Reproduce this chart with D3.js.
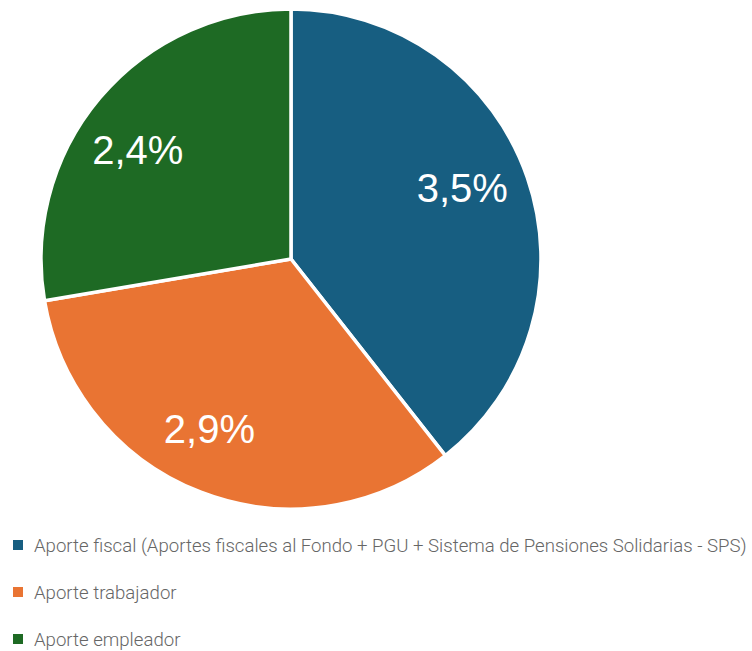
<!DOCTYPE html>
<head>
  <meta charset="utf-8">
  <style>
    body { margin: 0; background: #fff; }
    .label { font-family: "Liberation Sans", Arial, sans-serif; font-size: 40px; fill: #fff; }
    .legend text { font-family: Roboto, sans-serif; font-weight: 300; font-size: 18.6px; fill: #666; }
  </style>
  <script src="https://d3js.org/d3.v7.min.js"></script>
</head>

<body>
  <div id="content"></div>
  <script>
  var categories = [
    "Aporte fiscal (Aportes fiscales al Fondo + PGU + Sistema de Pensiones Solidarias - SPS)",
    "Aporte trabajador",
    "Aporte empleador"
  ];
  var values = [3.46, 2.89, 2.43];
  var valueLabels = ["3,5%", "2,9%", "2,4%"];
  var colors = ["#175e81", "#e97433", "#1e6a24"];

  var width = 752, height = 651,
      cx = 291, cy = 259, radius = 250;

  // small hand nudges so labels sit where the original tool put them
  var labelNudge = [[-6, -10], [-14, -5], [-10, 12]];

  var svg = d3.select("#content").append("svg")
      .attr("width", width)
      .attr("height", height);

  var pie = d3.pie().sort(null).value(function(d) { return d; });
  var arc = d3.arc().innerRadius(0).outerRadius(radius);
  var labelArc = d3.arc().innerRadius(radius * 0.75).outerRadius(radius * 0.75);

  var g = svg.append("g")
      .attr("transform", "translate(" + cx + "," + cy + ")");

  var slices = g.selectAll(".slice")
      .data(pie(values))
    .enter().append("g")
      .attr("class", "slice");

  slices.append("path")
      .attr("d", arc)
      .attr("fill", function(d, i) { return colors[i]; })
      .attr("stroke", "#fff")
      .attr("stroke-width", 3.5)
      .attr("stroke-linejoin", "round");

  slices.append("text")
      .attr("class", "label")
      .attr("transform", function(d, i) {
        var c = labelArc.centroid(d);
        return "translate(" + (c[0] + labelNudge[i][0]) + "," + (c[1] + labelNudge[i][1]) + ")";
      })
      .attr("text-anchor", "middle")
      .attr("dy", "0.35em")
      .text(function(d, i) { return valueLabels[i]; });

  // legend
  var legend = svg.append("g")
      .attr("class", "legend")
      .attr("transform", "translate(13,545)");

  var rows = legend.selectAll("g")
      .data(categories)
    .enter().append("g")
      .attr("transform", function(d, i) { return "translate(0," + (i * 47) + ")"; });

  rows.append("rect")
      .attr("y", -5)
      .attr("width", 10)
      .attr("height", 10)
      .attr("fill", function(d, i) { return colors[i]; });

  rows.append("text")
      .attr("x", 21)
      .attr("dy", "0.35em")
      .text(function(d) { return d; });
  </script>
</body>
</html>
